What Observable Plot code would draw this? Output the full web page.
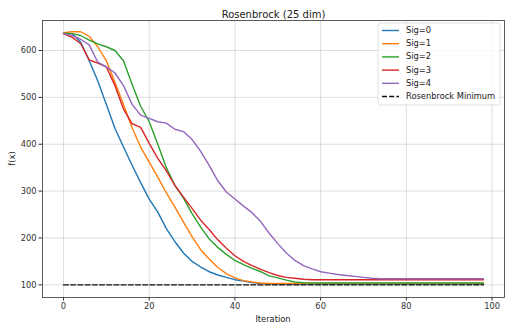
<!DOCTYPE html>
<html><head><meta charset="utf-8">
<script src="https://cdn.jsdelivr.net/npm/d3@7"></script>
<script src="https://cdn.jsdelivr.net/npm/@observablehq/plot@0.6"></script>
<style>body{margin:0;background:#fff;} svg{display:block;font-family:"DejaVu Sans",sans-serif;}</style>
</head><body><div id="chart"></div>
<script>
const iterations = d3.range(0, 100, 2);
const sig0 = [637,636,618,578,535,485,434,394,355,318,283,255,220,192,168,150,138,128,121,116,111,108,105,103,102,
  101.5,101.5,101.5,101.5,101.5,101.5,101.5,101.5,101.5,101.5,101.5,101.5,101.5,101.5,101.5,101.5,101.5,101.5,101.5,101.5,101.5,101.5,101.5,101.5,101.5];
const sig1 = [638,640,640,630,608,578,532,485,435,394,362,330,296,266,234,203,175,155,137,124,115,109,106,104,103,
  103,103,103,103,103,103,103,103,103,103,103,103,103,103,103,103,103,103,103,103,103,103,103,103,103];
const sig2 = [637,636,632,622,614,608,600,578,528,481,448,400,350,312,285,252,223,198,180,165,152,143,135,128,119,115,110,106,104.5,104,
  104,104,104,104,104,104,104,104,104,104,104,104,104,104,104,104,104,104,104,104];
const sig3 = [636,628,615,580,573,565,525,475,444,436,402,370,343,312,287,263,238,218,196,178,162,150,141,133,126,120,116,114,112,111,
  111,111,111,111,111,111,111,111,111,111,111,111,111,111,111,111,111,111,111,111];
const sig4 = [636,632,624,612,575,565,552,525,485,462,455,448,445,432,427,410,385,355,322,298,283,268,254,235,210,188,168,152,141,134,
  128,125,122,120,118,116,114,113,113,113,113,113,113,113,113,113,113,113,113,113];

const seriesNames = ["Sig=0","Sig=1","Sig=2","Sig=3","Sig=4"];
const seriesValues = [sig0, sig1, sig2, sig3, sig4];
const colors = ["#1f77b4","#ff7f0e","#2ca02c","#d62728","#9467bd"];
const minimumValue = 100;
const minimumLabel = "Rosenbrock Minimum";
const xTicks = [0,20,40,60,80,100];
const yTicks = [100,200,300,400,500,600];
const title = "Rosenbrock (25 dim)";
const xLabel = "Iteration";
const yLabel = "f(x)";

const rows = seriesNames.flatMap((name, k) => iterations.map((it, i) => ({series: name, iteration: it, value: seriesValues[k][i]})));
const minRows = [
  {iteration: iterations[0], value: minimumValue},
  {iteration: iterations[iterations.length - 1], value: minimumValue}
];

const W = 505, H = 329, mL = 42, mR = 1, mT = 20, mB = 32;
const plot = Plot.plot({
  width: W, height: H, marginLeft: mL, marginRight: mR, marginTop: mT, marginBottom: mB,
  style: {fontFamily: "DejaVu Sans, sans-serif", fontSize: "8.3px", color: "#333", background: "#fff"},
  x: {domain: [-4.9, 102.9]},
  y: {domain: [73, 664]},
  color: {domain: seriesNames, range: colors},
  marks: [
    Plot.gridX(xTicks, {stroke: "#b0b0b0", strokeOpacity: 0.55, strokeWidth: 0.8}),
    Plot.gridY(yTicks, {stroke: "#b0b0b0", strokeOpacity: 0.55, strokeWidth: 0.8}),
    Plot.line(rows, {x: "iteration", y: "value", z: "series", stroke: "series", strokeWidth: 1.4}),
    Plot.line(minRows, {x: "iteration", y: "value", stroke: "#111", strokeWidth: 1.4, strokeDasharray: "5,2.2"}),
    Plot.frame({stroke: "#333", strokeWidth: 0.8}),
    Plot.axisX(xTicks, {tickSize: 3.5, tickPadding: 2.5, label: null}),
    Plot.axisY(yTicks, {tickSize: 3.5, tickPadding: 2.5, label: null}),
    Plot.text([title], {frameAnchor: "top", dy: -10, fontSize: 10, fill: "#222"})
  ]
});
document.getElementById("chart").appendChild(plot);

const svg = d3.select(plot);
const cx = mL + (W - mL - mR) / 2, cy = mT + (H - mT - mB) / 2;
svg.append("text").attr("x", cx).attr("y", 319).attr("text-anchor", "middle")
  .attr("dominant-baseline", "middle").attr("font-size", 8.3).attr("fill", "#222").text(xLabel);
svg.append("text").attr("transform", `translate(12,${cy}) rotate(-90)`).attr("text-anchor", "middle")
  .attr("dominant-baseline", "middle").attr("font-size", 8.3).attr("fill", "#222").text(yLabel);

// legend
const lg = svg.append("g").attr("text-anchor", "start");
lg.append("rect").attr("x", 378).attr("y", 23).attr("width", 122).attr("height", 82).attr("rx", 2)
  .attr("fill", "#fff").attr("fill-opacity", 0.8).attr("stroke", "#d8d8d8").attr("stroke-width", 0.8);
const entries = seriesNames.map((n, i) => ({label: n, color: colors[i], dash: null}))
  .concat([{label: minimumLabel, color: "#111", dash: "5,2.2"}]);
entries.forEach((e, i) => {
  const y = 30.5 + i * 13.2;
  lg.append("line").attr("x1", 382).attr("x2", 399).attr("y1", y).attr("y2", y)
    .attr("stroke", e.color).attr("stroke-width", 1.4).attr("stroke-dasharray", e.dash);
  lg.append("text").attr("x", 406).attr("y", y).attr("text-anchor", "start").attr("dominant-baseline", "middle")
    .attr("font-size", 8.3).attr("fill", "#222").text(e.label);
});
</script></body></html>
